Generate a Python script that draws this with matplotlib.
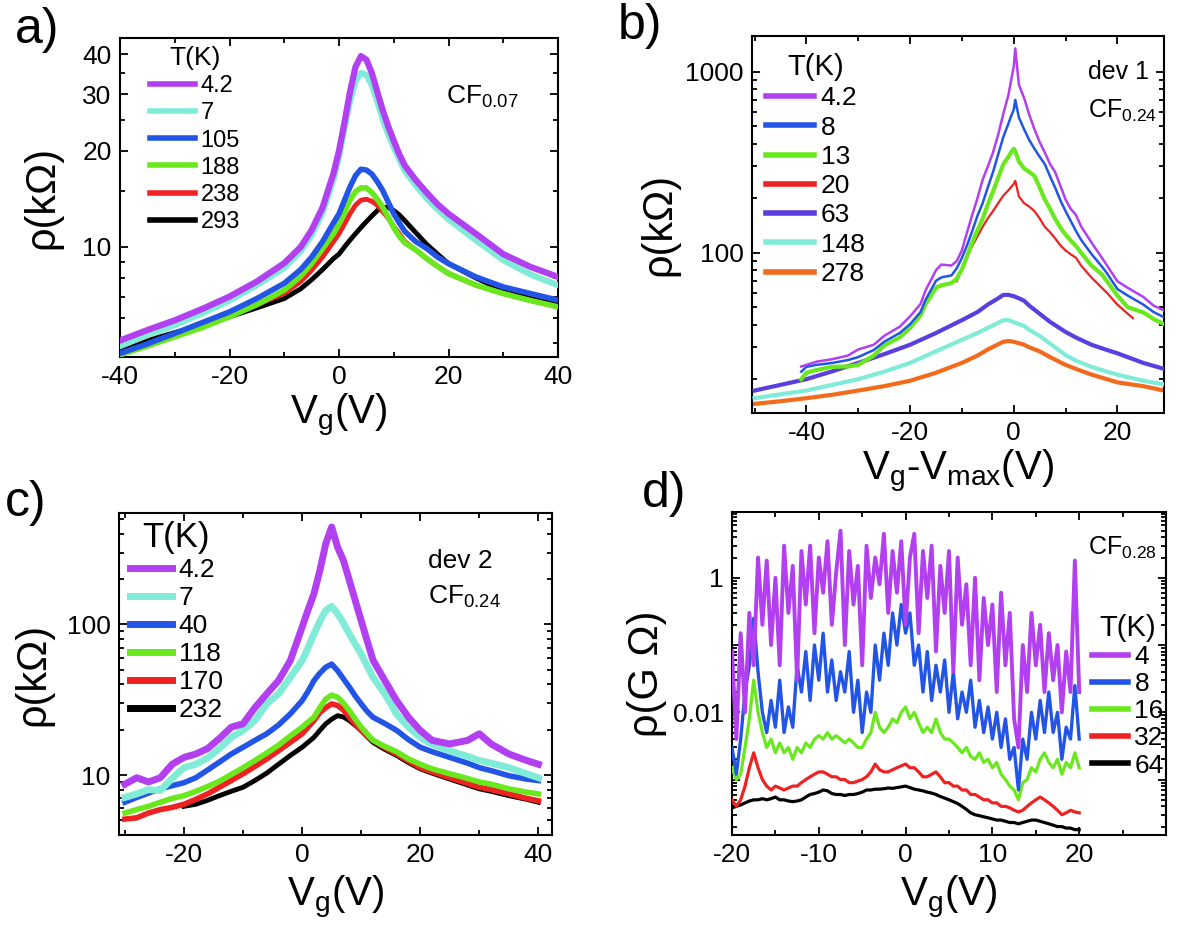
import numpy as np
import matplotlib
matplotlib.use("Agg")
import matplotlib.pyplot as plt
from matplotlib.ticker import FixedLocator, NullFormatter, LogLocator, FuncFormatter, MultipleLocator
from matplotlib.lines import Line2D

plt.rcParams['font.family'] = ['Liberation Sans', 'DejaVu Sans']
plt.rcParams['mathtext.default'] = 'regular'
plt.rcParams['axes.unicode_minus'] = False

# ---------------- colours ----------------
PURPLE = '#b23ff0'
CYAN = '#80ecd8'
BLUE = '#2255e6'
GREEN = '#6ae81e'
RED = '#ee2222'
BLACK = '#000000'
SLATE = '#5a3ee0'
ORANGE = '#f26b1d'

# ---------------- panel a data (kOhm) ----------------
a_vg = [-40, -35, -30, -25, -20, -15, -10, -7, -5, -3, -1, 0, 1, 2, 3, 4, 5, 6, 7, 8, 9, 10,
        11, 12, 14, 16, 18, 20, 25, 30, 35, 40]
a_T = ['4.2', '7', '105', '188', '238', '293']
a_42 = [5.1, 5.5, 5.9, 6.4, 7.0, 7.8, 8.9, 10.0, 11.3, 13.3, 17.0, 20, 24.5, 30.5, 36.5, 39.5,
        38.5, 35, 30.5, 26.7, 23.8, 21.5, 19.5, 18.0, 16.2, 14.8, 13.6, 12.7, 11.0, 9.5, 8.66, 8.06]
a_7 = [4.9, 5.3, 5.7, 6.2, 6.8, 7.6, 8.6, 9.7, 10.9, 12.8, 16.3, 19.2, 23.5, 28.5, 33, 35,
       34.5, 32, 28.5, 25, 22.5, 20.5, 18.8, 17.3, 15.6, 14.2, 13.1, 12.2, 10.5, 9.1, 8.2, 7.6]
a_105 = [4.65, 4.98, 5.37, 5.8, 6.27, 6.9, 7.7, 8.5, 9.3, 10.4, 11.9, 12.7, 14.0, 15.4, 16.7, 17.5,
         17.4, 16.9, 16.0, 15.0, 13.8, 12.7, 11.9, 11.2, 10.4, 9.9, 9.3, 8.87, 8.06, 7.5, 7.15, 6.82]
a_188 = [4.6, 4.9, 5.24, 5.6, 6.05, 6.6, 7.33, 8.1, 8.87, 9.9, 11.0, 11.8, 12.8, 14.0, 14.9, 15.3,
         15.3, 14.8, 14.1, 13.3, 12.4, 11.5, 10.8, 10.3, 9.8, 9.2, 8.7, 8.26, 7.6, 7.15, 6.8, 6.5]
a_238 = [4.65, 4.95, 5.3, 5.7, 6.13, 6.6, 7.16, 7.8, 8.46, 9.3, 10.4, 11.0, 11.8, 12.7, 13.5, 14.0,
         14.1, 13.9, 13.5, 12.9, 12.3, 11.6, 11.0, 10.4, 9.8, 9.2, 8.7, 8.26, 7.6, 7.15, 6.8, 6.5]
a_293 = [4.8, 5.1, 5.4, 5.7, 6.05, 6.45, 6.9, 7.4, 7.9, 8.5, 9.2, 9.5, 10.0, 10.5, 11.0, 11.5,
         12.0, 12.5, 13.0, 13.3, 13.3, 13.0, 12.6, 12.1, 11.1, 10.2, 9.5, 8.87, 8.0, 7.3, 6.9, 6.6]

# ---------------- panel b data (kOhm) ----------------
b_T = ['4.2', '8', '13', '20', '63', '148', '278']
b_vg_low = [-41, -40, -38, -35, -32, -30, -27, -25, -22, -20, -18, -17, -15, -14, -12, -11, -10,
            -9, -8, -7, -6, -5, -4, -3, -2, -1, -0.5, 0, 0.3, 1, 2, 3, 4, 5, 6, 7, 8, 9, 10,
            11, 12, 13, 15, 17, 18, 20, 22, 25, 27, 29]
b_42 = [23.5, 24, 25, 25.8, 27, 29.2, 31, 34.7, 39, 44.5, 52, 62, 80, 86, 85, 90, 103,
        130, 162, 200, 253, 300, 358, 450, 588, 750, 900, 1066, 1350, 850, 718, 580, 482, 410, 358,
        310, 279, 235, 197, 175, 162, 140, 114, 94, 85, 69.6, 64, 57, 51, 48]
b_8 = [22, 23.4, 24, 24.6, 25.5, 26.5, 29, 32.2, 36, 40.3, 47, 55, 70, 73, 75, 82, 93.7,
       110, 132, 160, 188, 230, 279, 350, 437, 520, 570, 617, 700, 560, 482, 420, 376, 340, 309,
       265, 229, 195, 170, 150, 132, 118, 98.5, 84, 77, 63, 58, 51.7, 47, 44]
b_13 = [20, 21.7, 22.5, 23.4, 23.5, 24, 27, 30.7, 34, 38.4, 45, 52, 64, 66, 68, 72, 80.8,
        96, 114, 133, 154, 185, 218, 260, 309, 340, 360, 376, 365, 320, 293, 280, 266, 230, 197,
        175, 154, 138, 126, 117, 109, 100, 85, 76, 69.6, 58, 50, 46.8, 43, 40.3]
b_vg_20 = [-11, -10, -9, -8, -7, -6, -5, -4, -3, -2, -1, 0, 0.3, 1, 2, 3, 4, 5, 6, 7, 8, 9, 10,
           11, 12, 13, 15, 17, 18, 20, 22, 23]
b_20 = [69.6, 81, 95, 109, 123, 139, 155, 170, 188, 207, 222, 240, 250, 205, 188, 180, 170, 155,
        139, 130, 120, 110, 103, 98, 94, 85, 73, 64, 60, 51.7, 46, 43.5]
b_vg_high = [-50, -45, -40, -35, -30, -25, -20, -15, -10, -7, -5, -3, -2, -1, 0, 1, 2, 3, 5, 7,
             10, 12, 15, 18, 20, 25, 29]
b_63 = [17.3, 18.6, 20, 22.1, 24.6, 27.5, 31, 36, 42.4, 47, 51.7, 56, 58.5, 58.5, 57.5, 56, 54.3,
        51, 46, 41.5, 36.5, 34, 31, 29, 27.8, 24.6, 22.8]
b_148 = [15.7, 16.5, 17.3, 18.6, 20, 22, 24.6, 28.5, 33, 36, 38.4, 41, 42.4, 42.4, 41.3, 40.3,
         39.4, 37.5, 34.7, 31.5, 27.2, 25.3, 23.4, 22, 21.2, 19.6, 18.7]
b_278 = [14.6, 15.1, 15.7, 16.4, 17.3, 18.3, 19.6, 21.7, 24.6, 27, 29.2, 31.2, 32.2, 32.5, 32.2,
         31.6, 31, 30, 28.5, 26.5, 24, 22.8, 21.2, 20, 19.2, 18.3, 17.3]

# ---------------- panel c data (kOhm) ----------------
c_T = ['4.2', '7', '40', '118', '170', '232']
c_vg = [-30, -28, -26, -24, -22, -20, -18, -16, -14, -12, -10, -8, -6, -4, -2, 0, 1, 2, 3, 4, 5,
        6, 7, 8, 9, 10, 11, 12, 14, 16, 18, 20, 22, 25, 28, 30, 32, 35, 38, 40]
c_42 = [8.7, 9.6, 9.0, 9.6, 11.8, 13.1, 13.8, 15.0, 17.5, 20.8, 21.9, 28, 34.6, 42.4, 57.6, 96,
        125, 160, 228, 344, 444, 326, 266, 196, 144, 106, 78, 58, 42.4, 31.2, 24.2, 19.8, 17,
        16.1, 17, 18.8, 16.1, 13.8, 12.5, 11.8]
c_7 = [7.1, 7.5, 8.0, 7.9, 9.5, 11.2, 11.8, 13.0, 15.0, 17.8, 19.8, 23.0, 29.7, 34.6, 44.6, 57.6,
       70, 86.6, 105, 124, 132, 118, 102, 86.6, 74, 63.7, 53, 44.6, 34.6, 25.4, 20.8, 17.8, 16,
       14.5, 13.3, 12.5, 12, 11.2, 10.2, 9.6]
c_40 = [6.6, 7.1, 7.6, 8.1, 8.5, 8.9, 9.6, 10.8, 12.2, 13.8, 15.3, 17.0, 18.8, 21.5, 25.5, 31.2,
        36, 42.4, 47.5, 52, 54.6, 49.4, 43.5, 38.4, 33.5, 29.7, 26.5, 24.2, 22, 19.8, 17.2, 15.3,
        14.3, 13.1, 12, 11.2, 10.7, 9.9, 9.4, 9.2]
c_118 = [5.6, 5.9, 6.2, 6.6, 7.0, 7.3, 7.8, 8.4, 9.1, 10.1, 11.2, 12.5, 14.0, 15.8, 18.2, 20.8,
         22.5, 24.2, 28, 32, 34.0, 32.9, 30, 26.8, 23.5, 20.8, 18.8, 17, 15.5, 14.3, 12.8, 11.8,
         11, 10.2, 9.5, 9.0, 8.7, 8.1, 7.7, 7.5]
c_170 = [5.1, 5.2, 5.6, 5.9, 6.1, 6.4, 6.9, 7.5, 8.3, 9.2, 10.2, 11.4, 12.8, 14.5, 16.5, 18.8,
         20.8, 23, 26, 28, 29.7, 29, 27, 24.2, 21.8, 19.8, 18.2, 17, 15.2, 13.8, 12.4, 11.2, 10.5,
         9.6, 8.8, 8.3, 8.0, 7.5, 7.0, 6.75]
c_vg_232 = c_vg[5:]
c_232 = [6.2, 6.4, 6.8, 7.3, 7.8, 8.3, 9.2, 10.3, 11.8, 13.5, 15.3, 16.5, 17.8, 19.8, 21.9, 23.5,
         24.8, 24.3, 23, 21.4, 19.8, 18, 16.5, 14.8, 13.5, 12.1, 11, 10.3, 9.4, 8.6, 8.1, 7.8,
         7.3, 6.9, 6.6]

# ---------------- panel d data (GOhm) ----------------
d_T = ['4', '8', '16', '32', '64']
d_vg = list(np.arange(-20, 20.5, 0.5))
d_4 = [0.08, 0.004, 0.15, 0.01, 0.3, 0.05, 2.0, 0.2, 1.8, 0.1, 1.0, 0.05, 3.0, 0.3, 1.5, 0.03,
       2.5, 0.4, 3.0, 0.15, 2.0, 0.6, 3.5, 0.2, 1.2, 5.0, 0.1, 2.5, 0.4, 1.5, 0.05, 3.0, 0.5,
       2.0, 0.8, 4.5, 0.3, 2.5, 0.6, 3.5, 0.2, 2.0, 4.5, 0.15, 2.5, 0.5, 3.0, 0.08, 1.5, 0.3,
       2.5, 0.04, 2.0, 0.2, 0.8, 0.05, 1.0, 0.03, 0.5, 0.1, 0.4, 0.02, 0.6, 0.05, 0.3, 0.008,
       0.003, 0.1, 0.02, 0.3, 0.05, 0.2, 0.02, 0.15, 0.03, 0.1, 0.01, 0.08, 0.02, 1.8, 0.02]
d_8 = [0.003, 0.0012, 0.004, 0.02, 0.05, 0.25, 0.04, 0.01, 0.005, 0.015, 0.006, 0.03, 0.005,
       0.012, 0.006, 0.05, 0.02, 0.08, 0.015, 0.1, 0.03, 0.15, 0.02, 0.06, 0.015, 0.04, 0.02,
       0.08, 0.01, 0.03, 0.005, 0.02, 0.01, 0.1, 0.03, 0.15, 0.05, 0.3, 0.1, 0.4, 0.15, 0.3,
       0.05, 0.1, 0.02, 0.08, 0.015, 0.05, 0.02, 0.06, 0.01, 0.04, 0.008, 0.02, 0.01, 0.03,
       0.006, 0.015, 0.005, 0.012, 0.004, 0.01, 0.003, 0.008, 0.002, 0.003, 0.0007, 0.004,
       0.002, 0.01, 0.004, 0.015, 0.005, 0.02, 0.005, 0.01, 0.002, 0.006, 0.004, 0.025, 0.004]
d_16 = [0.0015, 0.001, 0.0012, 0.003, 0.008, 0.03, 0.01, 0.005, 0.003, 0.004, 0.0025, 0.0035,
        0.0025, 0.003, 0.002, 0.003, 0.0025, 0.0035, 0.003, 0.004, 0.0045, 0.004, 0.005, 0.004,
        0.0045, 0.004, 0.0035, 0.004, 0.0035, 0.003, 0.003, 0.004, 0.005, 0.01, 0.006, 0.005,
        0.006, 0.008, 0.007, 0.01, 0.012, 0.008, 0.01, 0.007, 0.005, 0.006, 0.005, 0.008, 0.005,
        0.004, 0.004, 0.0035, 0.003, 0.0025, 0.003, 0.0022, 0.002, 0.0025, 0.0018, 0.002, 0.0015,
        0.0018, 0.0012, 0.001, 0.0008, 0.0007, 0.0005, 0.0009, 0.001, 0.0015, 0.0013, 0.002,
        0.0025, 0.0018, 0.0015, 0.002, 0.0012, 0.0018, 0.0015, 0.0025, 0.0015]
d_32 = [0.0005, 0.0004, 0.0005, 0.0008, 0.0015, 0.0025, 0.0015, 0.001, 0.0008, 0.0007, 0.0008,
        0.00075, 0.0007, 0.00075, 0.0008, 0.0008, 0.0009, 0.001, 0.0011, 0.0012, 0.0013, 0.0013,
        0.0012, 0.0011, 0.0011, 0.001, 0.001, 0.0009, 0.0009, 0.00095, 0.001, 0.0011, 0.0013,
        0.0017, 0.0014, 0.0013, 0.0013, 0.0014, 0.0015, 0.0016, 0.0017, 0.0015, 0.0015, 0.0013,
        0.0011, 0.0011, 0.0012, 0.0013, 0.0011, 0.0009, 0.0009, 0.0008, 0.0008, 0.0007, 0.0007,
        0.0006, 0.0006, 0.00055, 0.0005, 0.0005, 0.00045, 0.00045, 0.0004, 0.0004, 0.00038,
        0.00035, 0.00033, 0.00035, 0.0004, 0.00045, 0.0005, 0.00055, 0.0005, 0.00045, 0.0004,
        0.00035, 0.0003, 0.00032, 0.00035, 0.00033, 0.00032]
d_64 = [0.00038, 0.0004, 0.00042, 0.00045, 0.00048, 0.0005, 0.0005, 0.00052, 0.0005, 0.00052,
        0.00055, 0.0005, 0.0005, 0.00048, 0.00047, 0.00048, 0.0005, 0.00055, 0.0006, 0.00062,
        0.00065, 0.0007, 0.00068, 0.00062, 0.0006, 0.0006, 0.00058, 0.0006, 0.0006, 0.00062,
        0.00065, 0.0007, 0.0007, 0.00072, 0.00072, 0.00073, 0.00075, 0.00074, 0.00076, 0.00078,
        0.0008, 0.00076, 0.00072, 0.0007, 0.00068, 0.00065, 0.00063, 0.0006, 0.00056, 0.00053,
        0.0005, 0.00047, 0.00044, 0.0004, 0.00036, 0.00032, 0.0003, 0.00029, 0.00028, 0.00027,
        0.00026, 0.00025, 0.00025, 0.00024, 0.00023, 0.00023, 0.00022, 0.00023, 0.00024,
        0.00025, 0.00025, 0.00024, 0.00023, 0.00022, 0.00021, 0.0002, 0.0002, 0.00019, 0.00019,
        0.00018, 0.00018]

TICK_FS = 19
XLABEL_FS = 29
YLABEL_FS = 30
LETTER_FS = 36

fig = plt.figure(figsize=(12, 9.26), dpi=100)


def make_ax(l, t, r, b):
    W, H = 1200.0, 926.0
    return fig.add_axes([l / W, 1 - b / H, (r - l) / W, (b - t) / H])


def style(ax):
    ax.tick_params(which='both', direction='in', top=True, right=True, labelsize=TICK_FS,
                   width=1.3, pad=6)
    ax.tick_params(which='major', length=6)
    ax.tick_params(which='minor', length=3.5)
    for s in ax.spines.values():
        s.set_linewidth(1.5)


def add_legend(ax, labels, colors, lws, **kw):
    handles = [Line2D([], [], color=c, lw=w) for c, w in zip(colors, lws)]
    return ax.legend(handles, labels, frameon=False, handletextpad=0.25, borderaxespad=0.0,
                     borderpad=0.0, **kw)


# ================= panel a =================
ax = make_ax(120, 38, 558, 357)
a_series = [a_42, a_7, a_105, a_188, a_238, a_293]
a_cols = [PURPLE, CYAN, BLUE, GREEN, RED, BLACK]
a_lw = [4.5, 4.5, 4.0, 4.0, 3.5, 3.5]
for i, (ys, c, w) in enumerate(zip(a_series, a_cols, a_lw)):
    ax.plot(a_vg, ys, color=c, lw=w, zorder=10 - i)
ax.set_yscale('log')
ax.set_xlim(-40, 40)
ax.set_ylim(4.53, 45)
ax.yaxis.set_major_locator(FixedLocator([10, 20, 30, 40]))
ax.yaxis.set_major_formatter(FuncFormatter(lambda v, p: '%d' % v))
ax.yaxis.set_minor_locator(FixedLocator([5, 6, 7, 8, 9, 15, 25, 35, 45]))
ax.yaxis.set_minor_formatter(NullFormatter())
ax.xaxis.set_major_locator(MultipleLocator(20))
ax.xaxis.set_minor_locator(MultipleLocator(10))
style(ax)
ax.set_xlabel('V$_g$(V)', fontsize=XLABEL_FS, labelpad=2)
ax.set_ylabel('ρ(kΩ)', fontsize=YLABEL_FS, labelpad=14)
add_legend(ax, a_T, a_cols, [4] * 6, loc='upper left', bbox_to_anchor=(0.068, 0.975),
           title='T(K)', title_fontsize=19, fontsize=17, handlelength=1.9, labelspacing=0.22)
ax.text(0.745, 0.815, 'CF$_{0.07}$', transform=ax.transAxes, fontsize=19, va='center')
fig.text(0.012, 0.968, 'a)', fontsize=LETTER_FS, va='center')

# ================= panel b =================
ax = make_ax(752, 36, 1164, 413)
ax.plot(b_vg_high, b_278, color=ORANGE, lw=3, zorder=2)
ax.plot(b_vg_high, b_148, color=CYAN, lw=3, zorder=3)
ax.plot(b_vg_high, b_63, color=SLATE, lw=3, zorder=4)
ax.plot(b_vg_20, b_20, color=RED, lw=1.6, zorder=5)
ax.plot(b_vg_low, b_13, color=GREEN, lw=3, zorder=6)
ax.plot(b_vg_low, b_8, color=BLUE, lw=1.8, zorder=7)
ax.plot(b_vg_low, b_42, color=PURPLE, lw=1.8, zorder=8)
ax.set_yscale('log')
ax.set_xlim(-50.5, 29)
ax.set_ylim(13, 1580)
ax.yaxis.set_major_locator(FixedLocator([100, 1000]))
ax.yaxis.set_major_formatter(FuncFormatter(lambda v, p: '%d' % v))
ax.yaxis.set_minor_locator(LogLocator(base=10, subs=np.arange(2, 10)))
ax.yaxis.set_minor_formatter(NullFormatter())
ax.xaxis.set_major_locator(MultipleLocator(20))
ax.xaxis.set_minor_locator(MultipleLocator(10))
style(ax)
ax.set_xlabel('V$_g$-V$_{max}$(V)', fontsize=XLABEL_FS, labelpad=2)
ax.set_ylabel('ρ(kΩ)', fontsize=YLABEL_FS, labelpad=4)
b_cols = [PURPLE, BLUE, GREEN, RED, SLATE, CYAN, ORANGE]
add_legend(ax, b_T, b_cols, [4] * 7, loc='upper left', bbox_to_anchor=(0.035, 0.955),
           title='T(K)', title_fontsize=21, fontsize=19, handlelength=1.8, labelspacing=0.2)
ax.text(0.815, 0.905, 'dev 1', transform=ax.transAxes, fontsize=18, va='center')
ax.text(0.815, 0.80, 'CF$_{0.24}$', transform=ax.transAxes, fontsize=18, va='center')
fig.text(0.515, 0.972, 'b)', fontsize=LETTER_FS, va='center')

# ================= panel c =================
ax = make_ax(119, 513, 552, 835)
c_cols = [PURPLE, CYAN, BLUE, GREEN, RED, BLACK]
ax.plot(c_vg_232, c_232, color=BLACK, lw=3.5, zorder=2)
ax.plot(c_vg, c_170, color=RED, lw=4, zorder=3)
ax.plot(c_vg, c_118, color=GREEN, lw=4, zorder=4)
ax.plot(c_vg, c_40, color=BLUE, lw=4, zorder=5)
ax.plot(c_vg, c_7, color=CYAN, lw=5, zorder=6)
ax.plot(c_vg, c_42, color=PURPLE, lw=5, zorder=7)
ax.set_yscale('log')
ax.set_xlim(-31, 42.3)
ax.set_ylim(4.0, 550)
ax.yaxis.set_major_locator(FixedLocator([10, 100]))
ax.yaxis.set_major_formatter(FuncFormatter(lambda v, p: '%d' % v))
ax.yaxis.set_minor_locator(LogLocator(base=10, subs=np.arange(2, 10)))
ax.yaxis.set_minor_formatter(NullFormatter())
ax.xaxis.set_major_locator(MultipleLocator(20))
ax.xaxis.set_minor_locator(MultipleLocator(10))
style(ax)
ax.set_xlabel('V$_g$(V)', fontsize=XLABEL_FS, labelpad=5)
ax.set_ylabel('ρ(kΩ)', fontsize=YLABEL_FS, labelpad=10)
add_legend(ax, c_T, c_cols, [5] * 6, loc='upper left', bbox_to_anchor=(0.025, 0.975),
           title='T(K)', title_fontsize=25, fontsize=19, handlelength=1.6, labelspacing=0.15)
ax.text(0.713, 0.85, 'dev 2', transform=ax.transAxes, fontsize=19, va='center')
ax.text(0.713, 0.74, 'CF$_{0.24}$', transform=ax.transAxes, fontsize=19, va='center')
fig.text(0.004, 0.457, 'c)', fontsize=LETTER_FS, va='center')

# ================= panel d =================
ax = make_ax(732, 512, 1166, 835)
d_series = [d_4, d_8, d_16, d_32, d_64]
d_cols = [PURPLE, BLUE, GREEN, RED, BLACK]
d_lw = [2.8, 2.4, 2.3, 2.3, 2.3]
for i, (ys, c, w) in enumerate(zip(d_series, d_cols, d_lw)):
    ax.plot(d_vg, ys, color=c, lw=w, zorder=10 - i)
ax.set_yscale('log')
ax.set_xlim(-20, 30)
ax.set_ylim(1.5e-4, 9.5)
ax.yaxis.set_major_locator(LogLocator(base=10, numticks=12))
ax.yaxis.set_major_formatter(FuncFormatter(
    lambda v, p: '1' if abs(v - 1) < 1e-9 else ('0.01' if abs(v - 0.01) < 1e-12 else '')))
ax.yaxis.set_minor_locator(LogLocator(base=10, subs=np.arange(2, 10), numticks=12))
ax.yaxis.set_minor_formatter(NullFormatter())
ax.xaxis.set_major_locator(FixedLocator([-20, -10, 0, 10, 20]))
ax.xaxis.set_minor_locator(MultipleLocator(5))
style(ax)
ax.set_xlabel('V$_g$(V)', fontsize=XLABEL_FS, labelpad=5)
ax.set_ylabel('ρ(G Ω)', fontsize=YLABEL_FS, labelpad=4)
add_legend(ax, d_T, d_cols, [4] * 5, loc='upper left', bbox_to_anchor=(0.83, 0.685),
           title='T(K)', title_fontsize=21, fontsize=19, handlelength=1.35, labelspacing=0.12)
ax.text(0.82, 0.89, 'CF$_{0.28}$', transform=ax.transAxes, fontsize=18, va='center')
fig.text(0.535, 0.466, 'd)', fontsize=LETTER_FS, va='center')

fig.savefig('out.png', dpi=100)
